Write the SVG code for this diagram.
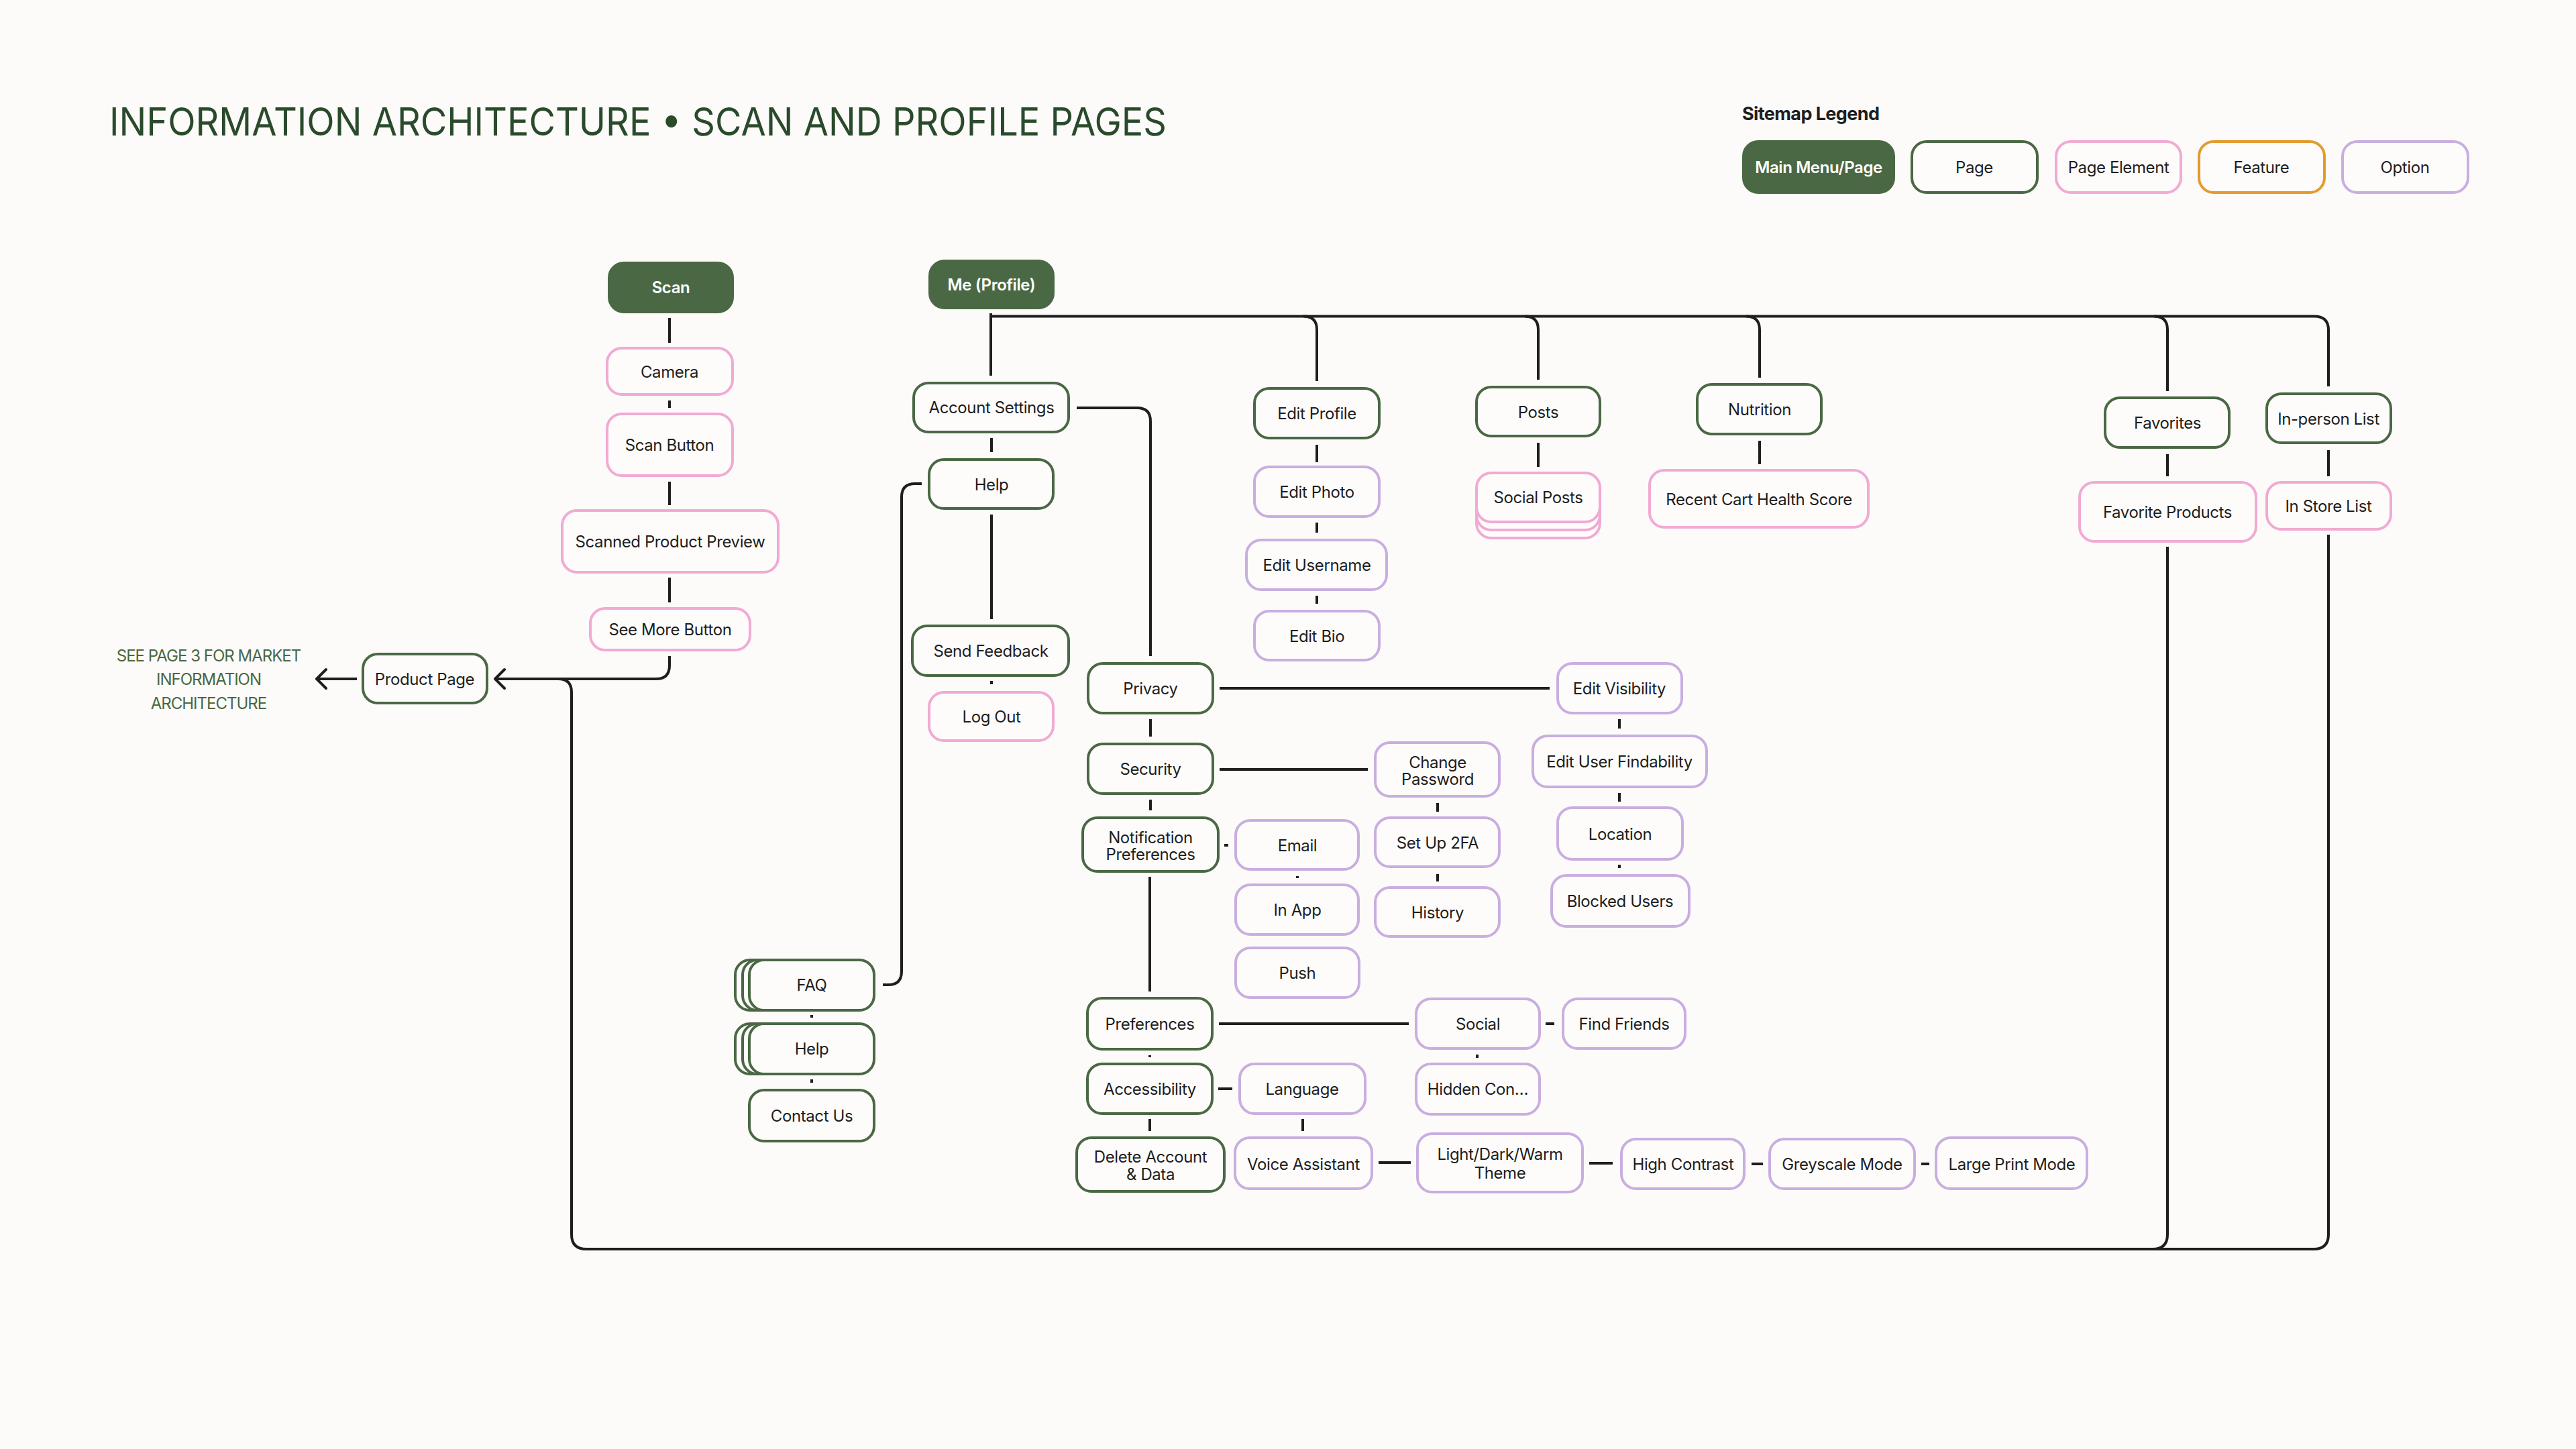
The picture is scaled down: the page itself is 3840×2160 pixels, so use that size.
<svg xmlns="http://www.w3.org/2000/svg" width="3840" height="2160" viewBox="0 0 3840 2160">
<defs>
<style>
.bg{fill:#fcfbf9}
rect.b{fill:#fdfcfb;stroke-width:4}
.pg{stroke:#4a6844}
.el{stroke:#f1aad3}
.op{stroke:#c9aee0}
.ft{stroke:#e39b2e}
rect.mm{fill:#4a6844;stroke:#4a6844;stroke-width:4}
text{font-family:Inter,"Liberation Sans",sans-serif}
text.l{font-size:24px;fill:#1e1e1e;text-anchor:middle;letter-spacing:-0.4px}
text.w{fill:#ffffff;font-weight:600}
.c{fill:none;stroke:#1e1e1e;stroke-width:4}
.a{fill:none;stroke:#1e1e1e;stroke-width:4;stroke-linecap:round;stroke-linejoin:round}
</style>
</defs>
<rect class="bg" x="0" y="0" width="3840" height="2160"/>

<text x="163" y="202" font-size="58" fill="#2a4a2c" textLength="1576" lengthAdjust="spacingAndGlyphs">INFORMATION ARCHITECTURE • SCAN AND PROFILE PAGES</text>

<g id="legend">
<text x="2597" y="179" font-size="27" font-weight="700" fill="#1e1e1e" letter-spacing="-0.6">Sitemap Legend</text>
<rect class="mm" x="2599" y="211" width="224" height="76" rx="22"/>
<text class="l w" x="2711" y="258">Main Menu/Page</text>
<rect class="b pg" x="2850" y="211" width="187" height="76" rx="22"/>
<text class="l" x="2943" y="258">Page</text>
<rect class="b el" x="3065" y="211" width="186" height="76" rx="22"/>
<text class="l" x="3158" y="258">Page Element</text>
<rect class="b ft" x="3278" y="211" width="187" height="76" rx="22"/>
<text class="l" x="3371" y="258">Feature</text>
<rect class="b op" x="3492" y="211" width="187" height="76" rx="22"/>
<text class="l" x="3585" y="258">Option</text>
</g>

<g id="connectors">
<!-- scan column -->
<path class="c" d="M998 474V511M998 597V608M998 718V753M998 861V898"/>
<path class="c" d="M998 978V992Q998 1012 978 1012H740"/>
<path class="c" d="M532 1012H474"/>
<path class="a" d="M486 998L472 1012L486 1026"/>
<path class="a" d="M752 998L738 1012L752 1026"/>
<!-- big loop -->
<path class="c" d="M3471 797V1840Q3471 1862 3449 1862H874Q852 1862 852 1840V1032Q852 1012 832 1012H740"/>
<path class="c" d="M3231 815V1840Q3231 1862 3209 1862"/>
<!-- top bus -->
<path class="c" d="M1477 467V560"/>
<path class="c" d="M1477 471.5H3450Q3471 471.5 3471 492V576"/>
<path class="c" d="M1943 471.5Q1963 471.5 1963 491.5V568"/>
<path class="c" d="M2273 471.5Q2293 471.5 2293 491.5V566"/>
<path class="c" d="M2603 471.5Q2623 471.5 2623 491.5V563"/>
<path class="c" d="M3211 471.5Q3231 471.5 3231 491.5V583"/>
<!-- account settings -->
<path class="c" d="M1478 653V674M1478 767V923M1478 1015V1020"/>
<path class="c" d="M1605 608H1695Q1715 608 1715 628V978"/>
<path class="c" d="M1374 721H1364Q1344 721 1344 741V1448Q1344 1468 1324 1468H1316"/>
<!-- profile columns -->
<path class="c" d="M1963 663V689M1963 779V794M1963 888V900"/>
<path class="c" d="M2293 660V696M2623 657V692M3231 677V710M3471 671V710"/>
<!-- settings spine -->
<path class="c" d="M1715 1072V1098M1715 1192V1208M1714 1307V1478M1714 1573V1576M1714 1668V1686M1942 1668V1686"/>
<path class="c" d="M2143 1197V1210M2143 1303V1314M1934 1306V1309"/>
<path class="c" d="M2414 1072V1086M2414 1182V1195M2414 1289V1294"/>
<path class="c" d="M1210 1513V1517M1210 1609V1614M2202 1572V1577"/>
<path class="c" d="M1818 1026H2310M1818 1147H2039M1825 1260H1831M1817 1526H2100M2304 1526H2317M1816 1623H1837"/>
<path class="c" d="M2055 1733H2103M2369 1734H2404M2611 1735H2628M2864 1735H2876"/>
</g>

<g id="note">
<text x="311" y="986" font-size="24" fill="#4a6844" text-anchor="middle" letter-spacing="-1">SEE PAGE 3 FOR MARKET</text>
<text x="311" y="1021" font-size="24" fill="#4a6844" text-anchor="middle" letter-spacing="-1">INFORMATION</text>
<text x="311" y="1057" font-size="24" fill="#4a6844" text-anchor="middle" letter-spacing="-1">ARCHITECTURE</text>
</g>

<g id="scan"><rect class="mm" x="908" y="392" width="184" height="73" rx="22"/><text class="l w" x="1000" y="437">Scan</text></g>
<g id="camera"><rect class="b el" x="905" y="519" width="187" height="69" rx="22"/><text class="l" x="998" y="563">Camera</text></g>
<g id="scan-button"><rect class="b el" x="905" y="617" width="187" height="92" rx="22"/><text class="l" x="998" y="672">Scan Button</text></g>
<g id="scanned-product-preview"><rect class="b el" x="838" y="761" width="322" height="92" rx="22"/><text class="l" x="999" y="816">Scanned Product Preview</text></g>
<g id="see-more-button"><rect class="b el" x="880" y="907" width="238" height="62" rx="22"/><text class="l" x="999" y="947">See More Button</text></g>
<g id="product-page"><rect class="b pg" x="541" y="975" width="185" height="73" rx="22"/><text class="l" x="633" y="1021">Product Page</text></g>

<g id="me-profile"><rect class="mm" x="1386" y="389" width="184" height="70" rx="22"/><text class="l w" x="1478" y="433">Me (Profile)</text></g>
<g id="account-settings"><rect class="b pg" x="1362" y="571" width="231" height="73" rx="22"/><text class="l" x="1478" y="616">Account Settings</text></g>
<g id="help"><rect class="b pg" x="1385" y="685" width="185" height="73" rx="22"/><text class="l" x="1478" y="731">Help</text></g>
<g id="send-feedback"><rect class="b pg" x="1360" y="933" width="233" height="74" rx="22"/><text class="l" x="1477" y="979">Send Feedback</text></g>
<g id="log-out"><rect class="b el" x="1385" y="1032" width="185" height="72" rx="22"/><text class="l" x="1478" y="1077">Log Out</text></g>

<g id="edit-profile"><rect class="b pg" x="1870" y="579" width="186" height="74" rx="22"/><text class="l" x="1963" y="625">Edit Profile</text></g>
<g id="edit-photo"><rect class="b op" x="1870" y="696" width="186" height="74" rx="22"/><text class="l" x="1963" y="742">Edit Photo</text></g>
<g id="edit-username"><rect class="b op" x="1858" y="805" width="209" height="74" rx="22"/><text class="l" x="1963" y="851">Edit Username</text></g>
<g id="edit-bio"><rect class="b op" x="1870" y="911" width="186" height="73" rx="22"/><text class="l" x="1963" y="957">Edit Bio</text></g>

<g id="posts"><rect class="b pg" x="2201" y="577" width="184" height="73" rx="22"/><text class="l" x="2293" y="623">Posts</text></g>
<g id="social-posts">
<rect class="b el" x="2201" y="729" width="184" height="73" rx="22"/>
<rect class="b el" x="2201" y="717" width="184" height="73" rx="22"/>
<rect class="b el" x="2201" y="705" width="184" height="73" rx="22"/>
<text class="l" x="2293" y="750">Social Posts</text></g>
<g id="nutrition"><rect class="b pg" x="2530" y="573" width="185" height="74" rx="22"/><text class="l" x="2623" y="619">Nutrition</text></g>
<g id="recent-cart"><rect class="b el" x="2459" y="701" width="326" height="85" rx="22"/><text class="l" x="2622" y="753">Recent Cart Health Score</text></g>
<g id="favorites"><rect class="b pg" x="3138" y="593" width="185" height="74" rx="22"/><text class="l" x="3231" y="639">Favorites</text></g>
<g id="favorite-products"><rect class="b el" x="3100" y="719" width="263" height="88" rx="22"/><text class="l" x="3231" y="772">Favorite Products</text></g>
<g id="in-person-list"><rect class="b pg" x="3379" y="587" width="185" height="73" rx="22"/><text class="l" x="3471" y="633">In-person List</text></g>
<g id="in-store-list"><rect class="b el" x="3379" y="719" width="185" height="70" rx="22"/><text class="l" x="3471" y="763">In Store List</text></g>

<g id="privacy"><rect class="b pg" x="1622" y="989" width="186" height="74" rx="22"/><text class="l" x="1715" y="1035">Privacy</text></g>
<g id="security"><rect class="b pg" x="1622" y="1109" width="186" height="74" rx="22"/><text class="l" x="1715" y="1155">Security</text></g>
<g id="notification-preferences"><rect class="b pg" x="1614" y="1219" width="202" height="80" rx="22"/><text class="l" x="1715" y="1257">Notification</text><text class="l" x="1715" y="1282">Preferences</text></g>
<g id="preferences"><rect class="b pg" x="1621" y="1488" width="186" height="76" rx="22"/><text class="l" x="1714" y="1535">Preferences</text></g>
<g id="accessibility"><rect class="b pg" x="1621" y="1586" width="186" height="74" rx="22"/><text class="l" x="1714" y="1632">Accessibility</text></g>
<g id="delete-account"><rect class="b pg" x="1605" y="1696" width="220" height="80" rx="22"/><text class="l" x="1715" y="1733">Delete Account</text><text class="l" x="1715" y="1759">&amp; Data</text></g>

<g id="edit-visibility"><rect class="b op" x="2322" y="989" width="185" height="74" rx="22"/><text class="l" x="2414" y="1035">Edit Visibility</text></g>
<g id="edit-user-findability"><rect class="b op" x="2285" y="1097" width="259" height="76" rx="22"/><text class="l" x="2414" y="1144">Edit User Findability</text></g>
<g id="location"><rect class="b op" x="2322" y="1204" width="186" height="77" rx="22"/><text class="l" x="2415" y="1252">Location</text></g>
<g id="blocked-users"><rect class="b op" x="2313" y="1305" width="205" height="76" rx="22"/><text class="l" x="2415" y="1352">Blocked Users</text></g>

<g id="change-password"><rect class="b op" x="2050" y="1107" width="185" height="80" rx="22"/><text class="l" x="2143" y="1145">Change</text><text class="l" x="2143" y="1170">Password</text></g>
<g id="set-up-2fa"><rect class="b op" x="2050" y="1219" width="185" height="73" rx="22"/><text class="l" x="2143" y="1265">Set Up 2FA</text></g>
<g id="history"><rect class="b op" x="2050" y="1323" width="185" height="73" rx="22"/><text class="l" x="2143" y="1369">History</text></g>

<g id="email"><rect class="b op" x="1842" y="1223" width="183" height="73" rx="22"/><text class="l" x="1934" y="1269">Email</text></g>
<g id="in-app"><rect class="b op" x="1842" y="1319" width="183" height="74" rx="22"/><text class="l" x="1934" y="1365">In App</text></g>
<g id="push"><rect class="b op" x="1842" y="1413" width="184" height="74" rx="22"/><text class="l" x="1934" y="1459">Push</text></g>

<g id="faq">
<rect class="b pg" x="1096" y="1431" width="186" height="75" rx="22"/>
<rect class="b pg" x="1107" y="1431" width="186" height="75" rx="22"/>
<rect class="b pg" x="1117" y="1431" width="186" height="75" rx="22"/>
<text class="l" x="1210" y="1477">FAQ</text></g>
<g id="help-2">
<rect class="b pg" x="1096" y="1526" width="186" height="75" rx="22"/>
<rect class="b pg" x="1107" y="1526" width="186" height="75" rx="22"/>
<rect class="b pg" x="1117" y="1526" width="186" height="75" rx="22"/>
<text class="l" x="1210" y="1572">Help</text></g>
<g id="contact-us"><rect class="b pg" x="1117" y="1625" width="186" height="76" rx="22"/><text class="l" x="1210" y="1672">Contact Us</text></g>

<g id="language"><rect class="b op" x="1848" y="1586" width="187" height="74" rx="22"/><text class="l" x="1941" y="1632">Language</text></g>
<g id="voice-assistant"><rect class="b op" x="1841" y="1696" width="204" height="76" rx="22"/><text class="l" x="1943" y="1744">Voice Assistant</text></g>
<g id="social"><rect class="b op" x="2111" y="1489" width="184" height="74" rx="22"/><text class="l" x="2203" y="1535">Social</text></g>
<g id="find-friends"><rect class="b op" x="2330" y="1489" width="182" height="74" rx="22"/><text class="l" x="2421" y="1535">Find Friends</text></g>
<g id="hidden-con"><rect class="b op" x="2111" y="1586" width="184" height="75" rx="22"/><text class="l" x="2203" y="1632">Hidden Con…</text></g>
<g id="light-dark-warm"><rect class="b op" x="2113" y="1690" width="246" height="87" rx="22"/><text class="l" x="2236" y="1729">Light/Dark/Warm</text><text class="l" x="2236" y="1757">Theme</text></g>
<g id="high-contrast"><rect class="b op" x="2417" y="1698" width="183" height="74" rx="22"/><text class="l" x="2509" y="1744">High Contrast</text></g>
<g id="greyscale-mode"><rect class="b op" x="2638" y="1698" width="216" height="74" rx="22"/><text class="l" x="2746" y="1744">Greyscale Mode</text></g>
<g id="large-print-mode"><rect class="b op" x="2886" y="1696" width="225" height="76" rx="22"/><text class="l" x="2999" y="1744">Large Print Mode</text></g>
</svg>
